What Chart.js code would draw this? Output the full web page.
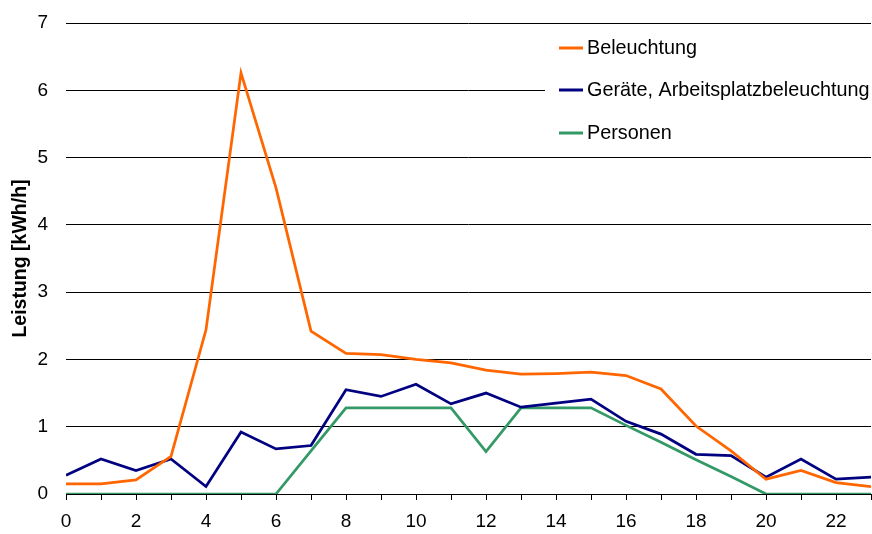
<!DOCTYPE html>
<html>
<head>
<meta charset="utf-8">
<script src="https://cdn.jsdelivr.net/npm/chart.js@4.4.0/dist/chart.umd.min.js"></script>
<style>
  html, body { margin: 0; padding: 0; background: #fff; }
  #wrap { width: 872px; height: 534px; }
</style>
</head>
<body>
<div id="wrap"><canvas id="chart"></canvas></div>
<script>
// Stunden des Tages
const hours = [0, 1, 2, 3, 4, 5, 6, 7, 8, 9, 10, 11, 12, 13, 14, 15, 16, 17, 18, 19, 20, 21, 22, 23];

// Leistung [kWh/h] je Stunde
const beleuchtung = [0.15, 0.15, 0.21, 0.56, 2.44, 6.26, 4.55, 2.42, 2.09, 2.07, 2.00, 1.95,
                     1.84, 1.78, 1.79, 1.81, 1.76, 1.56, 1.01, 0.64, 0.22, 0.35, 0.17, 0.11];
const geraete = [0.28, 0.52, 0.35, 0.52, 0.11, 0.92, 0.67, 0.72, 1.55, 1.45, 1.63, 1.34,
                 1.50, 1.29, 1.35, 1.41, 1.08, 0.89, 0.59, 0.57, 0.25, 0.52, 0.22, 0.25];
const personen = [0, 0, 0, 0, 0, 0, 0, 0.64, 1.28, 1.28, 1.28, 1.28,
                  0.63, 1.28, 1.28, 1.28, 1.02, 0.77, 0.51, 0.26, 0, 0, 0, 0];

const seriesNames = ['Beleuchtung', 'Geräte, Arbeitsplatzbeleuchtung', 'Personen'];
const seriesColors = ['#FF6600', '#000080', '#339966'];

const FONT = "Arial, 'Liberation Sans', sans-serif";

const toPoints = (vals) => vals.map((v, i) => ({ x: hours[i], y: v }));

// Legende als weißer Kasten im Diagramm (rechts oben)
const boxLegend = {
    id: 'boxLegend',
    afterDraw(chart) {
        const ctx = chart.ctx;
        ctx.save();
        ctx.fillStyle = '#fff';
        ctx.fillRect(545, 25, 327, 131);
        ctx.font = `19.8px ${FONT}`;
        ctx.textBaseline = 'middle';
        const rows = [48, 90, 133];
        chart.data.datasets.forEach((ds, i) => {
            const y = rows[i];
            ctx.strokeStyle = ds.borderColor;
            ctx.lineWidth = 3;
            ctx.beginPath();
            ctx.moveTo(559, y);
            ctx.lineTo(583, y);
            ctx.stroke();
            ctx.fillStyle = '#000';
            ctx.fillText(ds.label, 587, y + 1);
        });
        ctx.restore();
    }
};

new Chart(document.getElementById('chart'), {
    type: 'line',
    data: {
        datasets: [
            { label: seriesNames[0], data: toPoints(beleuchtung), borderColor: seriesColors[0] },
            { label: seriesNames[1], data: toPoints(geraete), borderColor: seriesColors[1] },
            { label: seriesNames[2], data: toPoints(personen), borderColor: seriesColors[2] }
        ]
    },
    options: {
        responsive: true,
        maintainAspectRatio: false,
        animation: false,
        layout: { padding: { top: 23, right: 1, left: 0, bottom: 0 } },
        elements: {
            line: { borderWidth: 2.75, tension: 0, fill: false },
            point: { radius: 0, hoverRadius: 0 }
        },
        plugins: { legend: { display: false }, tooltip: { enabled: false } },
        scales: {
            x: {
                type: 'linear',
                min: 0,
                max: 23,
                afterFit: (s) => { s.height = 40; s.paddingLeft = 0; s.paddingRight = 0; },
                border: { display: true, color: '#000', width: 1 },
                grid: { drawOnChartArea: false, drawTicks: true, tickLength: 6, color: '#000' },
                ticks: {
                    stepSize: 1,
                    autoSkip: false,
                    maxRotation: 0,
                    padding: 10,
                    color: '#000',
                    font: { family: FONT, size: 19 },
                    callback: (v) => (v % 2 === 0 ? v : '')
                }
            },
            y: {
                min: 0,
                max: 7,
                afterFit: (s) => { s.width = 66; s.paddingTop = 0; s.paddingBottom = 0; },
                border: { display: false },
                grid: { color: '#000', lineWidth: 1, drawTicks: false },
                ticks: {
                    stepSize: 1,
                    padding: 18,
                    color: '#000',
                    font: { family: FONT, size: 19 }
                },
                title: {
                    display: true,
                    text: 'Leistung [kWh/h]',
                    color: '#000',
                    font: { family: FONT, size: 19.5, weight: 'bold' },
                    padding: { top: 9, bottom: 0 }
                }
            }
        }
    },
    plugins: [boxLegend]
});
</script>
</body>
</html>
